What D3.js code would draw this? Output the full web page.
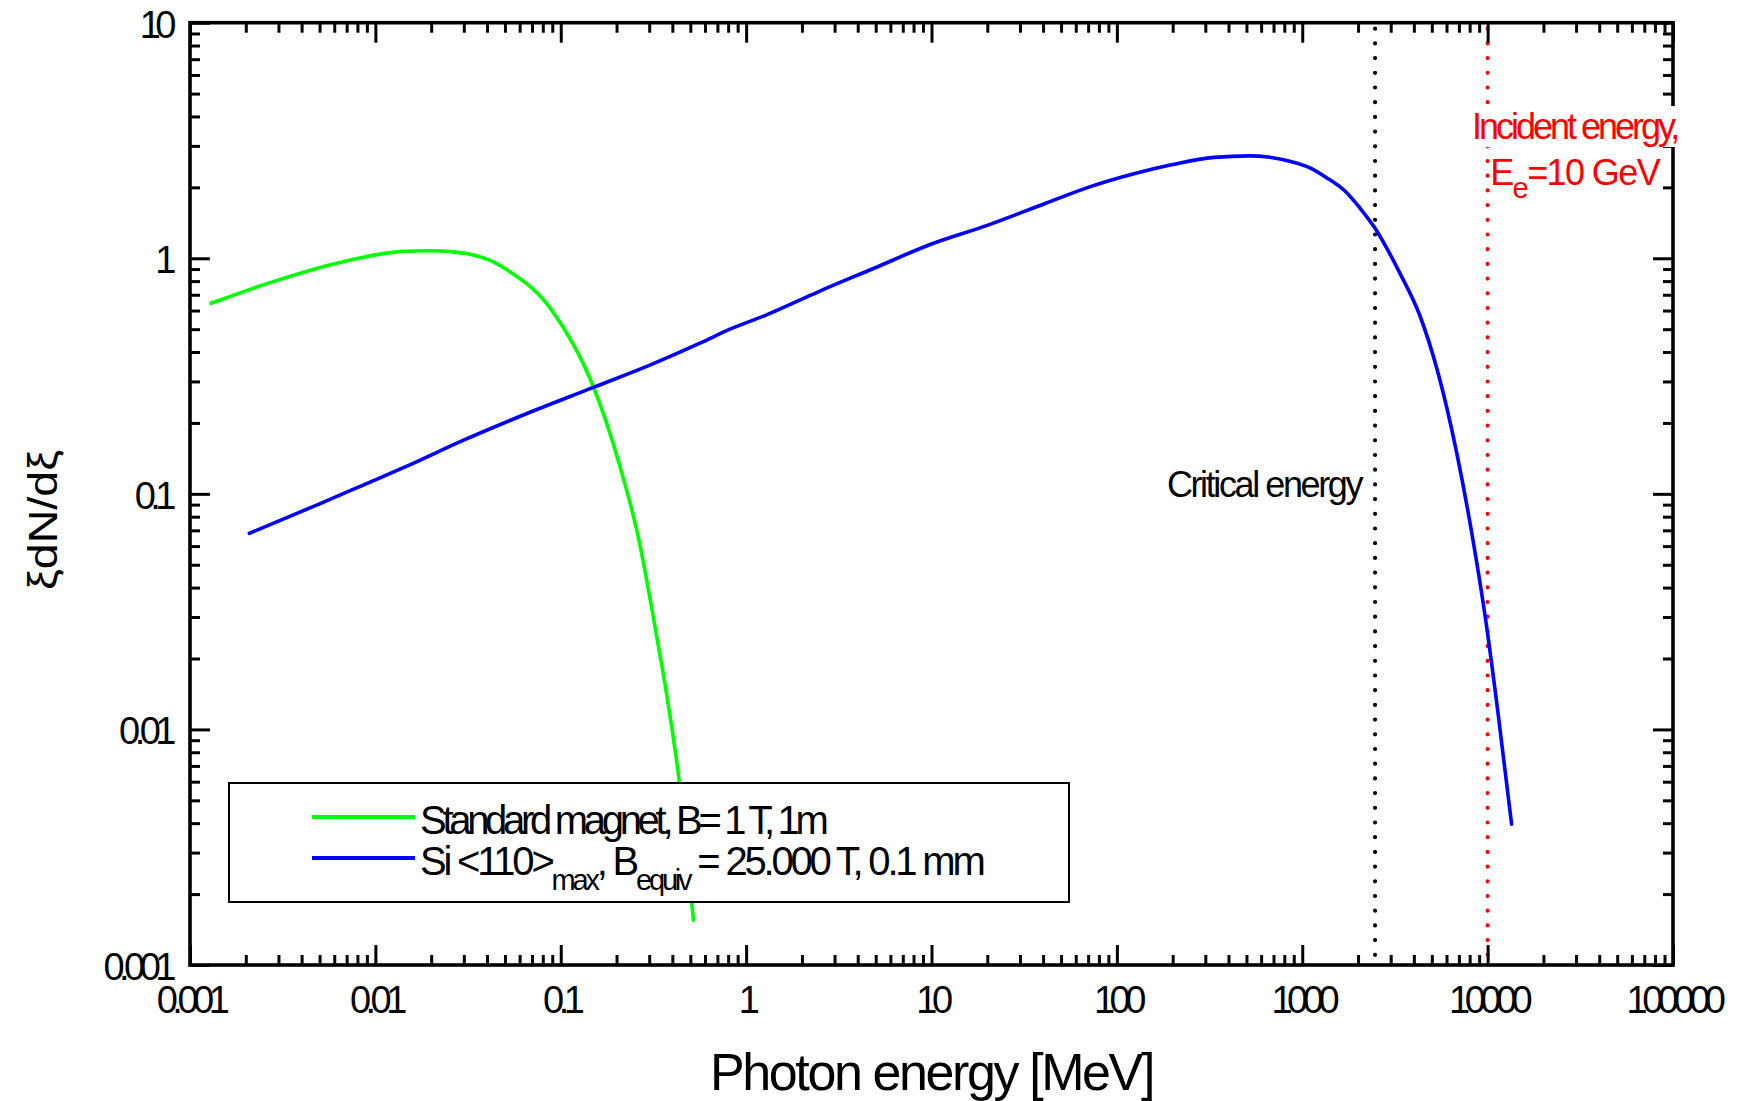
<!DOCTYPE html>
<html>
<head>
<meta charset="utf-8">
<script src="https://cdn.jsdelivr.net/npm/d3@7"></script>
<style>
body { margin: 0; background: #fff; }
svg { display: block; font-family: "Liberation Sans", Arial, sans-serif; }
</style>
</head>
<body>
<div id="chart"></div>
<script>
/* Data */

// Standard magnet, B = 1 T, 1 m
var greenEnergy = [0.0013, 0.0027, 0.0067, 0.0136, 0.0197, 0.026, 0.0337, 0.043, 0.0532, 0.0839, 0.1033, 0.132, 0.15, 0.2085, 0.262, 0.329, 0.373, 0.436, 0.52];
var greenYield  = [0.644, 0.788, 0.967, 1.067, 1.077, 1.065, 1.033, 0.968, 0.877, 0.644, 0.508, 0.358, 0.285, 0.131, 0.0655, 0.0249, 0.014, 0.006, 0.00155];

// Si <110> max, B equiv = 25.000 T, 0.1 mm
var blueEnergy = [0.00209, 0.003, 0.005, 0.0086, 0.015, 0.0299, 0.06, 0.15, 0.3, 0.564, 0.818, 1.28, 2.5, 4.9, 10, 20, 40.4, 70, 125, 200, 334, 523, 653, 857, 1100, 1340, 1700, 2046, 2472, 2900, 3357, 4303, 5408, 6790, 8350, 9860, 11400, 13470];
var blueYield  = [0.068, 0.0766, 0.0907, 0.109, 0.1317, 0.169, 0.213, 0.283, 0.351, 0.436, 0.50, 0.574, 0.726, 0.907, 1.15, 1.38, 1.70, 2.0, 2.29, 2.50, 2.68, 2.72, 2.69, 2.58, 2.42, 2.21, 1.93, 1.635, 1.34, 1.08, 0.867, 0.573, 0.325, 0.151, 0.0632, 0.0276, 0.0116, 0.00396];

var xTickValues = [0.001, 0.01, 0.1, 1, 10, 100, 1000, 10000, 100000];
var xTickLabels = ["0.001", "0.01", "0.1", "1", "10", "100", "1000", "10000", "100000"];
var yTickValues = [0.001, 0.01, 0.1, 1, 10];
var yTickLabels = ["0.001", "0.01", "0.1", "1", "10"];

var criticalEnergy = 2470;   // MeV
var incidentEnergy = 10000;  // MeV

var seriesColors = ["#00ff00", "#0000ff"];
var legendLabels = [
	[["Standard magnet, B= 1 T, 1m", 0]],
	[["Si <110>", 0], ["max", 1], [", B", 0], ["equiv", 1], [" = 25.000 T, 0.1 mm", 0]]
];

/* Chart */

var width = 1741,
	height = 1101;
var margin = {top: 22.7, right: 68, bottom: 136, left: 190};
var fontFamily = "'Liberation Sans', Arial, sans-serif";

var svg = d3.select("#chart").append("svg")
	.attr("width", width)
	.attr("height", height);

var x = d3.scaleLog().domain([0.001, 100000]).range([margin.left, width - margin.right]);
var y = d3.scaleLog().domain([0.001, 10]).range([height - margin.bottom, margin.top]);

function minorTicks(domain) { // 2..9 inside every decade
	var out = [];
	var e0 = Math.round(Math.log10(domain[0])), e1 = Math.round(Math.log10(domain[1]));
	for (var e = e0; e < e1; e++) {
		for (var k = 2; k <= 9; k++) out.push(k * Math.pow(10, e));
	}
	return out;
}

/* ------- reference lines ------- */
function vLine(value, color) {
	svg.append("line")
		.attr("x1", x(value)).attr("x2", x(value))
		.attr("y1", y(10) + 6).attr("y2", y(0.001) - 2)
		.attr("stroke", color)
		.attr("stroke-width", 4.2)
		.attr("stroke-linecap", "round")
		.attr("stroke-dasharray", "0 14.7");
}
vLine(criticalEnergy, "#000");
vLine(incidentEnergy, "#ff0000");

/* ------- curves ------- */
var line = d3.line()
	.x(function(d) { return x(d[0]); })
	.y(function(d) { return y(d[1]); })
	.curve(d3.curveMonotoneX);

[[greenEnergy, greenYield], [blueEnergy, blueYield]].forEach(function(s, i) {
	svg.append("path")
		.datum(d3.zip(s[0], s[1]))
		.attr("d", line)
		.attr("fill", "none")
		.attr("stroke", seriesColors[i])
		.attr("stroke-width", 3.6)
		.attr("stroke-linejoin", "round")
		.attr("stroke-linecap", "round");
});

/* ------- axes, ticks inward on all four sides ------- */
function styleAxis(g) {
	g.attr("font-family", fontFamily).attr("font-size", 38);
	g.select(".domain").remove();
	g.selectAll("line").attr("stroke", "#000").attr("stroke-width", 3);
	g.selectAll("text")
		.attr("fill", "#000")
		.style("letter-spacing", "-5.5px");
}
var yb = y.range()[0], yt = y.range()[1], xl = x.range()[0], xr = x.range()[1];

svg.append("g").attr("transform", "translate(0," + yb + ")")
	.call(d3.axisBottom(x).tickValues(xTickValues).tickSize(-20).tickPadding(21)
		.tickFormat(function(d, i) { return xTickLabels[i]; }))
	.call(styleAxis);
svg.append("g").attr("transform", "translate(0," + yb + ")")
	.call(d3.axisBottom(x).tickValues(minorTicks(x.domain())).tickSize(-10).tickFormat(""))
	.call(styleAxis);
svg.append("g").attr("transform", "translate(0," + yt + ")")
	.call(d3.axisTop(x).tickValues(xTickValues).tickSize(-20).tickFormat(""))
	.call(styleAxis);
svg.append("g").attr("transform", "translate(0," + yt + ")")
	.call(d3.axisTop(x).tickValues(minorTicks(x.domain())).tickSize(-10).tickFormat(""))
	.call(styleAxis);

svg.append("g").attr("transform", "translate(" + xl + ",0)")
	.call(d3.axisLeft(y).tickValues(yTickValues).tickSize(-20).tickPadding(19)
		.tickFormat(function(d, i) { return yTickLabels[i]; }))
	.call(styleAxis)
	.selectAll("text").attr("dy", "0.38em");
svg.append("g").attr("transform", "translate(" + xl + ",0)")
	.call(d3.axisLeft(y).tickValues(minorTicks(y.domain())).tickSize(-10).tickFormat(""))
	.call(styleAxis);
svg.append("g").attr("transform", "translate(" + xr + ",0)")
	.call(d3.axisRight(y).tickValues(yTickValues).tickSize(-20).tickFormat(""))
	.call(styleAxis);
svg.append("g").attr("transform", "translate(" + xr + ",0)")
	.call(d3.axisRight(y).tickValues(minorTicks(y.domain())).tickSize(-10).tickFormat(""))
	.call(styleAxis);

svg.append("rect")
	.attr("x", xl).attr("y", yt)
	.attr("width", xr - xl).attr("height", yb - yt)
	.attr("fill", "none")
	.attr("stroke", "#000")
	.attr("stroke-width", 3.6);

/* ------- rich text helper (subscripts) ------- */
function richText(g, parts, size, subSize, shift) {
	var t = g.append("text").style("font-size", size + "px");
	var down = 0;
	parts.forEach(function(p) {
		var dy = 0;
		if (p[1] && !down) { dy = shift; down = 1; }
		else if (!p[1] && down) { dy = -shift; down = 0; }
		t.append("tspan")
			.attr("dy", dy)
			.style("font-size", (p[1] ? subSize : size) + "px")
			.text(p[0]);
	});
	return t;
}

/* ------- legend ------- */
var legend = svg.append("g").attr("transform", "translate(" + (xl + 39) + ",783)");
legend.append("rect")
	.attr("width", 840).attr("height", 119)
	.attr("fill", "#fff")
	.attr("stroke", "#000")
	.attr("stroke-width", 2);
legendLabels.forEach(function(parts, i) {
	var row = legend.append("g").attr("transform", "translate(0," + (51 + i * 41) + ")");
	row.append("line")
		.attr("x1", 83).attr("x2", 186)
		.attr("y1", -17).attr("y2", -17)
		.attr("stroke", seriesColors[i])
		.attr("stroke-width", 4);
	richText(row, parts, 40, 29, 15)
		.attr("x", 191)
		.style("letter-spacing", i == 0 ? "-4.3px" : "-3.2px");
});

/* ------- annotations ------- */
svg.append("text")
	.attr("x", x(criticalEnergy) - 14)
	.attr("y", 497)
	.attr("text-anchor", "end")
	.style("font-size", "36px")
	.style("letter-spacing", "-2.4px")
	.text("Critical energy");

var inc = svg.append("g");
var incLine1 = inc.append("text")
	.attr("x", x(incidentEnergy) + 87)
	.attr("y", 139)
	.attr("text-anchor", "middle")
	.attr("fill", "#ff0000")
	.style("font-size", "36px")
	.style("letter-spacing", "-3px")
	.text("Incident energy,");
var bb = incLine1.node().getBBox();
inc.insert("rect", "text")
	.attr("x", bb.x - 3).attr("y", bb.y)
	.attr("width", bb.width + 6).attr("height", bb.height)
	.attr("fill", "#fff");
richText(inc, [["E", 0], ["e", 1], ["=10 GeV", 0]], 36, 29, 13)
	.attr("x", x(incidentEnergy) + 87)
	.attr("y", 185)
	.attr("text-anchor", "middle")
	.attr("fill", "#ff0000")
	.style("letter-spacing", "-1.6px");

/* ------- axis titles ------- */
svg.append("text")
	.attr("x", (xl + xr) / 2)
	.attr("y", 1090)
	.attr("text-anchor", "middle")
	.style("font-size", "52px")
	.style("letter-spacing", "-2.4px")
	.text("Photon energy [MeV]");

svg.append("text")
	.attr("transform", "translate(57,520) rotate(-90)")
	.attr("text-anchor", "middle")
	.attr("textLength", 140)
	.attr("lengthAdjust", "spacingAndGlyphs")
	.style("font-size", "40px")
	.text("ξdN/dξ");
</script>
</body>
</html>
